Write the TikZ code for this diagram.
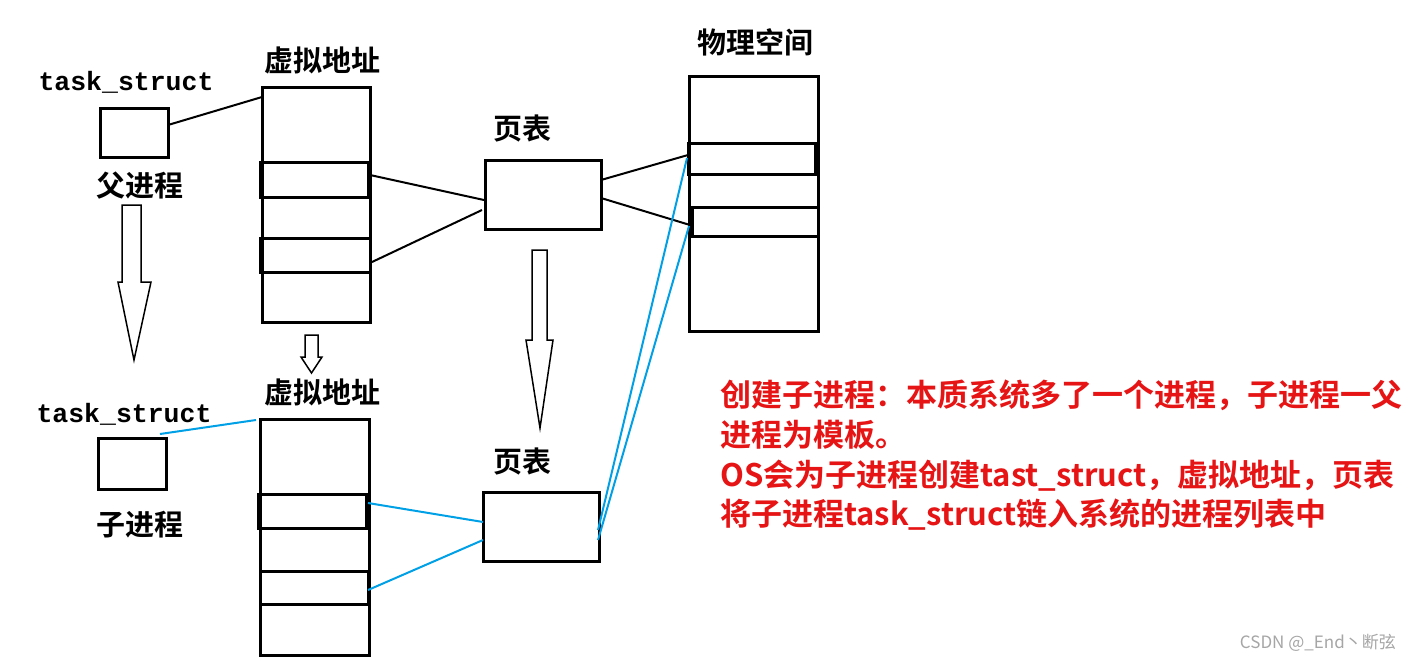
\documentclass[tikz,border=0pt]{standalone}
\usepackage{fontspec}
\newfontfamily\cjk{Noto Sans CJK SC}
\newfontfamily\cjkb{Noto Sans CJK SC Bold}
\newfontfamily\mono{Liberation Mono}
\begin{document}
\begin{tikzpicture}[x=1pt,y=-1pt,
  box/.style={draw,line width=3pt,inner sep=0pt},
  blk/.style={line width=2pt},
  blu/.style={line width=2pt,draw={rgb,255:red,0;green,160;blue,230}},
  lab/.style={font=\cjkb\fontsize{29}{32}\selectfont,inner sep=0pt},
  ts/.style={font=\mono\bfseries\fontsize{26.5}{28}\selectfont,inner sep=0pt},
  red/.style={font=\cjkb\fontsize{31}{34}\selectfont,text={rgb,255:red,230;green,20;blue,20},anchor=west,inner sep=0pt},
  hollow/.style={draw,line width=1.5pt,fill=white}]
\useasboundingbox[fill=white] (0,0) rectangle (1410,662);
% top
\node[ts] (t1) at (126,82) {task\_struct};
\draw[box] (100,108) rectangle (168,157); \coordinate (p1) at (168,125);
\node[lab] (fa) at (140,186) {父进程};
\draw[hollow] (122,205)--(141,205)--(141,282)--(151,282)--(134,360)--(118,282)--(122,282)--cycle;
\node[lab] (v1) at (322,60) {虚拟地址};
\draw[box] (262,87) rectangle (370,322);
\draw[box] (260,162) rectangle (368,197);
\draw[box] (260,238) rectangle (370,272);
\coordinate (vtop) at (262,97);
\draw[blk] (p1)--(vtop);
\draw[hollow] (305,335)--(318,335)--(318,357)--(322,357)--(311.5,373)--(301,357)--(305,357)--cycle;
\node[lab] (pt1) at (522,128) {页表};
\draw[box] (485,160) rectangle (601,229);
\coordinate (b1) at (370,175); \coordinate (b2) at (372,262);
\coordinate (q1) at (484,200); \coordinate (q2) at (482,210);
\draw[blk] (b1)--(q1); \draw[blk] (b2)--(q2);
\draw[hollow] (532,250)--(547,250)--(547,340)--(553,340)--(540,428)--(526,340)--(532,340)--cycle;
\node[lab] (ph) at (755,42) {物理空间};
\draw[box] (689,76) rectangle (818,331);
\draw[box] (688,143) rectangle (815,174);
\draw[box] (692,207) rectangle (818,236);
\coordinate (r1) at (601,180); \coordinate (r2) at (601,198);
\coordinate (s1) at (688,155); \coordinate (s2) at (690,225);
\draw[blk] (r1)--(s1); \draw[blk] (r2)--(s2);
% bottom
\node[ts] (t2) at (124,414) {task\_struct};
\draw[box] (98,438) rectangle (166,489); \coordinate (p2) at (160,434);
\node[lab] (ch) at (140,525) {子进程};
\node[lab] (v2) at (322,392) {虚拟地址};
\draw[box] (260,419) rectangle (369,655);
\draw[box] (258,494) rectangle (366,528);
\draw[box] (260,571) rectangle (368,604);
\coordinate (vtop2) at (256,420);
\draw[blu] (p2)--(vtop2);
\node[lab] (pt2) at (522,461) {页表};
\draw[box] (483,492) rectangle (599,561);
\coordinate (c1) at (368,503); \coordinate (c2) at (368,590);
\coordinate (d1) at (483,522); \coordinate (d2) at (483,540);
\draw[blu] (c1)--(d1); \draw[blu] (c2)--(d2);
\coordinate (e1) at (598,530); \coordinate (e2) at (598,540);
\coordinate (f1) at (687,158); \coordinate (f2) at (689,226);
\draw[blu] (e1)--(f1); \draw[blu] (e2)--(f2);
% red text
\node[red] (l1) at (720,395) {创建子进程：本质系统多了一个进程，子进程一父};
\node[red] (l2) at (720,435) {进程为模板。};
\node[red] (l3) at (720,476) {OS会为子进程创建tast\_struct，虚拟地址，页表};
\node[red] (l4) at (720,515) {将子进程task\_struct链入系统的进程列表中};
\node[font=\cjk\fontsize{17}{20}\selectfont,text=gray!70,anchor=east,inner sep=0pt] (wm) at (1396,643) {CSDN @\_End丶断弦};
\end{tikzpicture}
\end{document}
